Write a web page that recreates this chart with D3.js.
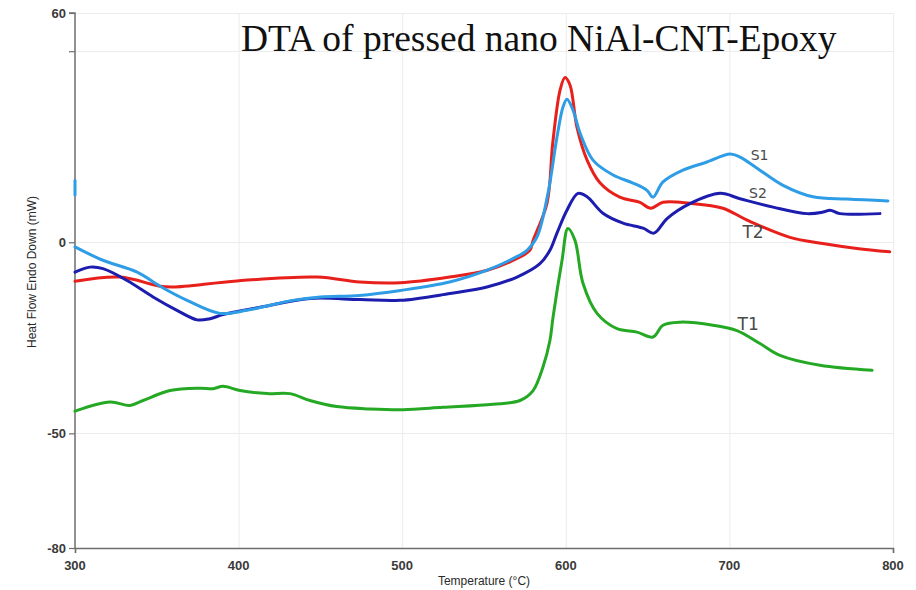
<!DOCTYPE html>
<html>
<head>
<meta charset="utf-8">
<script src="https://cdn.jsdelivr.net/npm/d3@7"></script>
<style>
  html, body { margin: 0; padding: 0; background: #fff; }
  svg { display: block; }
</style>
</head>
<body>
<svg id="chart" width="916" height="590"></svg>
<script>
// DTA traces: [temperature °C, heat flow mW]
const s1Start = [[300, 16.2], [300, 12.4]];
const s1 = [
  [300, -1.2], [317, -4.7], [338, -7.8], [352, -11.5], [368.5, -15.2], [388.6, -18.6],
  [405, -17.8], [433, -15.2], [450, -14.3], [474, -13.9], [499, -12.6], [529, -10.4],
  [552, -7.3], [568, -4.2], [576.3, -2.1], [582.4, 1.4], [589.1, 12.8], [594.6, 27.5],
  [598.3, 35.4], [600.7, 37.4], [604.4, 34.6], [608.7, 28.6], [616.6, 21.5], [628.9, 17.6],
  [641.1, 15.5], [649.6, 13.6], [653.3, 11.8], [659.4, 15.8], [671.6, 18.9], [686.3, 21.0],
  [700.4, 23.1], [706.5, 22.3], [716.9, 19.4], [732.8, 14.9], [751.1, 11.9], [771.9, 11.3],
  [796.9, 10.8]
];
const s2 = [
  [300, -7.8], [309.2, -6.5], [317.1, -6.9], [331.8, -10.0], [347.7, -14.3], [362.3, -17.8],
  [374.6, -20.3], [382.5, -20.0], [390.5, -18.9], [413.1, -17.0], [443.6, -14.7], [474.2, -15.0],
  [498.7, -15.2], [529.2, -13.4], [551.8, -11.7], [570.2, -9.1], [584.2, -5.6], [590.3, -2.1],
  [594.6, 2.4], [600.7, 8.4], [607.5, 12.8], [613, 11.9], [622.7, 7.6], [635, 5.0],
  [647.2, 3.7], [653.9, 2.4], [661.9, 6.2], [675.9, 10.1], [694.3, 12.8], [706.5, 11.4],
  [726.7, 9.2], [747.4, 7.5], [757.2, 7.9], [761.5, 8.4], [767.6, 7.5], [792, 7.5]
];
const t2 = [
  [300, -10.2], [327.5, -9.1], [352, -11.5], [360, -11.7], [399, -10.1], [448, -9.1],
  [474, -10.4], [498.7, -10.6], [529, -9.1], [552, -7.3], [568, -4.7], [578, -2.1],
  [580, 0.5], [588.5, 10.2], [592, 25.9], [596.5, 39.8], [599.5, 43.1], [602.6, 41.1],
  [606.8, 30.1], [613, 21.5], [621, 15.5], [633, 11.8], [645, 10.5], [652, 8.9],
  [659.4, 10.5], [676, 10.2], [696, 8.9], [710.8, 5.8], [737, 1.3], [757, -0.3],
  [778, -1.6], [798, -2.5]
];
const t1 = [
  [300, -44.2], [321.4, -41.8], [333.6, -42.7], [341.6, -41.4], [358.1, -38.8], [376.4, -38.2],
  [384.4, -38.3], [390.5, -37.7], [400.9, -38.8], [417.4, -39.6], [431.4, -39.6], [443.6, -41.4],
  [460.1, -43.0], [480.3, -43.6], [500.5, -43.8], [524.9, -43.2], [555.5, -42.4], [572, -41.4],
  [580, -38.8], [586, -32.7], [590.3, -25.7], [592.2, -19.6], [597.7, -4.7], [601.3, 3.6],
  [605.6, 0.5], [610.5, -10.7], [619.1, -18.6], [631.3, -22.6], [643.5, -23.5], [653.3, -24.8],
  [659.4, -21.7], [669.8, -20.9], [690, -21.7], [704.6, -23.1], [718.7, -26.5], [730.9, -29.6],
  [755.4, -32.2], [787.2, -33.5]
];

const xTicks = [300, 400, 500, 600, 700, 800];
const yTickLabels = [60, 0, -50, -80];
const yTickMarks = [60, 50, 0, -50, -80];
const yGrid = [60, 50, 0, -50];
const seriesNames = ["S1", "S2", "T2", "T1"];

const svg = d3.select("#chart");
const x = d3.scaleLinear().domain([300, 800]).range([75, 893]);
const y = d3.scaleLinear().domain([-80, 60]).range([548, 13]);

// faint grid
const grid = svg.append("g").attr("stroke", "#ececec").attr("stroke-width", 1);
grid.selectAll("line.v").data(xTicks.slice(1)).join("line")
  .attr("x1", d => x(d) + 0.5).attr("x2", d => x(d) + 0.5)
  .attr("y1", y(60)).attr("y2", y(-80));
grid.selectAll("line.h").data(yGrid).join("line")
  .attr("x1", x(300)).attr("x2", x(800))
  .attr("y1", d => Math.round(y(d)) + 0.5).attr("y2", d => Math.round(y(d)) + 0.5);

// axes
const axisColor = "#6e6e6e";
const yAxis = svg.append("g").attr("transform", `translate(${x(300)},0)`)
  .call(d3.axisLeft(y).tickValues(yTickMarks).tickSize(6)
    .tickFormat(d => yTickLabels.includes(d) ? d : ""));
const xAxis = svg.append("g").attr("transform", `translate(0,${y(-80)})`)
  .call(d3.axisBottom(x).tickValues([300, 800]).tickSize(5).tickFormat(""));
[yAxis, xAxis].forEach(g => {
  g.select(".domain").attr("stroke", axisColor).attr("stroke-width", 1.5);
  g.selectAll(".tick line").attr("stroke", axisColor).attr("stroke-width", 1.2);
});
yAxis.select(".domain").attr("d", `M-6,${y(60)}H0V${y(-80)}`);
yAxis.selectAll(".tick text")
  .attr("font-family", "Liberation Sans, Arial, sans-serif")
  .attr("font-size", 13).attr("font-weight", "bold").attr("fill", "#3a3a3a")
  .attr("x", -9);

// x tick labels
svg.append("g").selectAll("text").data(xTicks).join("text")
  .attr("x", x).attr("y", 570)
  .attr("text-anchor", "middle")
  .attr("font-family", "Liberation Sans, Arial, sans-serif")
  .attr("font-size", 13).attr("font-weight", "bold").attr("fill", "#3a3a3a")
  .text(d => d);

// axis titles
svg.append("text")
  .attr("x", 484).attr("y", 585).attr("text-anchor", "middle")
  .attr("font-family", "Liberation Sans, Arial, sans-serif")
  .attr("font-size", 12).attr("fill", "#2a2a2a")
  .text("Temperature (°C)");
svg.append("text")
  .attr("transform", "translate(36,272) rotate(-90)").attr("text-anchor", "middle")
  .attr("font-family", "Liberation Sans, Arial, sans-serif")
  .attr("font-size", 12).attr("fill", "#2a2a2a")
  .text("Heat Flow Endo Down (mW)");

// title
svg.append("text")
  .attr("x", 241).attr("y", 51)
  .attr("font-family", "Liberation Serif, Times New Roman, serif")
  .attr("font-size", 37.5).attr("fill", "#111")
  .text("DTA of pressed nano NiAl-CNT-Epoxy");

// traces
const line = d3.line().x(d => x(d[0])).y(d => y(d[1])).curve(d3.curveCatmullRom.alpha(0.5));
const traces = [
  { data: t1, color: "#25a925" },
  { data: t2, color: "#e8201c" },
  { data: s2, color: "#1c1cae" },
  { data: s1, color: "#2e9de6" },
  { data: s1Start, color: "#2e9de6" }
];
svg.append("g").selectAll("path").data(traces).join("path")
  .attr("d", d => line(d.data))
  .attr("fill", "none")
  .attr("stroke", d => d.color)
  .attr("stroke-width", 3)
  .attr("stroke-linejoin", "round")
  .attr("stroke-linecap", "round");

// hand-written curve labels
const labelAnchors = { S1: [713, 21.5], S2: [712, 11.5], T2: [708, 1.2], T1: [705, -23] };
svg.append("g").selectAll("text").data(seriesNames).join("text")
  .attr("x", d => x(labelAnchors[d][0]))
  .attr("y", d => y(labelAnchors[d][1]))
  .attr("font-family", "DejaVu Sans, sans-serif")
  .attr("font-size", d => d[0] === "T" ? 17 : 14)
  .attr("fill", "#4a4a4a")
  .text(d => d);
</script>
</body>
</html>
